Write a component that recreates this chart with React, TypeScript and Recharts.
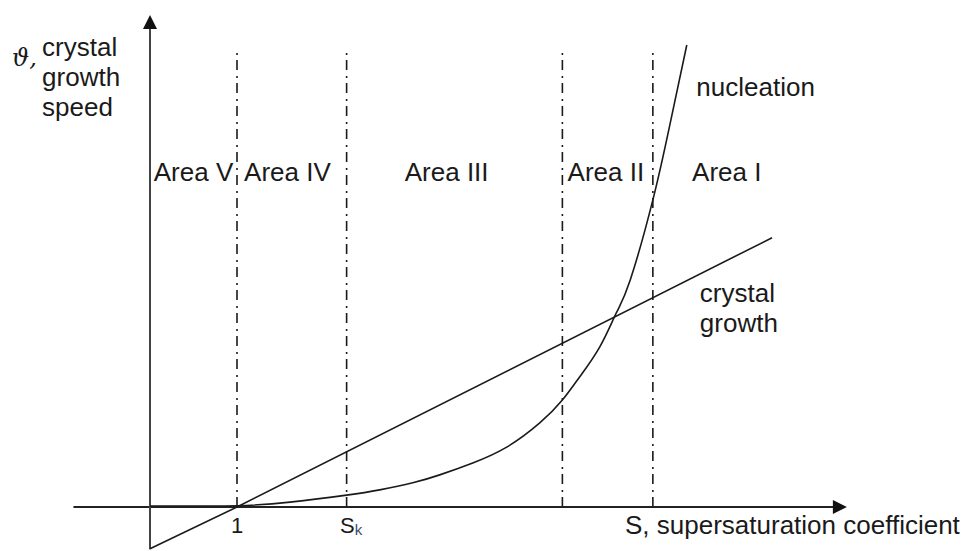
import React from "react";
import {
  ComposedChart,
  Line,
  XAxis,
  YAxis,
  ReferenceLine,
  ReferenceDot,
} from "recharts";

// ---- data (S = supersaturation coefficient, v = speed, arbitrary units) ----
const crystalS = [0, 1, 7.15];
const crystalV = [-0.95, 0, 6.12];

const nucleationS = [0, 1, 1.61, 2.26, 2.64, 3.02, 3.33, 3.71, 4.1, 4.48, 4.74, 4.94, 5.17, 5.36, 5.52, 5.78, 5.98, 6.17];
const nucleationV = [0.02, 0.03, 0.11, 0.27, 0.39, 0.55, 0.73, 1.0, 1.36, 1.91, 2.43, 2.96, 3.64, 4.41, 5.16, 6.98, 8.73, 10.5];

const boundaryS = [1, 2.26, 4.74, 5.78];
const boundaryTop = 10.39;

const areaLabels = ["Area V", "Area IV", "Area III", "Area II", "Area I"];
const areaCenterS = [0.5, 1.58, 3.41, 5.24, 6.63];
const areaLabelV = 7.61;

const tickLabels = ["1", "S"];
const tickS = [1, 2.26];

const crystalData = crystalS.map((s, i) => ({ s, v: crystalV[i] }));
const nucleationData = nucleationS.map((s, i) => ({ s, v: nucleationV[i] }));

const INK = "#1a1a1a";
const FONT = "'Liberation Sans', Arial, sans-serif";

const textShape =
  (content: React.ReactNode, opts: { anchor?: string; size?: number; family?: string; style?: string } = {}) =>
  (p: any) =>
    (
      <text
        x={p.cx}
        y={p.cy}
        textAnchor={opts.anchor || "middle"}
        dominantBaseline="central"
        fontSize={opts.size || 26}
        fontFamily={opts.family || FONT}
        fontStyle={opts.style || "normal"}
        fill={INK}
      >
        {content}
      </text>
    );

export default function App() {
  return (
    <div style={{ position: "absolute", left: 0, top: 0, background: "#fff" }}>
      <ComposedChart
        width={968}
        height={551}
        margin={{ top: 1, right: 35, bottom: 0, left: 63 }}
      >
        <XAxis type="number" dataKey="s" domain={[-1, 9]} hide allowDataOverflow />
        <YAxis type="number" domain={[-1, 11.5]} hide allowDataOverflow />

        {/* dash-dot boundaries */}
        {boundaryS.map((s) => (
          <ReferenceLine
            key={"b" + s}
            segment={[
              { x: s, y: 0 },
              { x: s, y: boundaryTop },
            ]}
            stroke={INK}
            strokeWidth={1.6}
            strokeDasharray="10 5 2 6"
            ifOverflow="visible"
          />
        ))}

        {/* axes */}
        <ReferenceLine
          segment={[
            { x: -0.88, y: 0 },
            { x: 7.9, y: 0 },
          ]}
          stroke="#222"
          strokeWidth={2}
          ifOverflow="visible"
        />
        <ReferenceLine
          segment={[
            { x: 0, y: -0.96 },
            { x: 0, y: 10.9 },
          ]}
          stroke="#444"
          strokeWidth={2}
          ifOverflow="visible"
        />
        <ReferenceDot
          x={8.01}
          y={0}
          ifOverflow="visible"
          shape={(p: any) => (
            <polygon
              points={`${p.cx},${p.cy} ${p.cx - 14},${p.cy - 7} ${p.cx - 14},${p.cy + 7}`}
              fill="#111"
            />
          )}
        />
        <ReferenceDot
          x={0}
          y={11.18}
          ifOverflow="visible"
          shape={(p: any) => (
            <polygon
              points={`${p.cx},${p.cy} ${p.cx - 7},${p.cy + 14} ${p.cx + 7},${p.cy + 14}`}
              fill="#111"
            />
          )}
        />

        {/* series */}
        <Line
          data={crystalData}
          dataKey="v"
          type="linear"
          stroke={INK}
          strokeWidth={1.6}
          dot={false}
          activeDot={false}
          isAnimationActive={false}
        />
        <Line
          data={nucleationData}
          dataKey="v"
          type="natural"
          stroke={INK}
          strokeWidth={1.6}
          dot={false}
          activeDot={false}
          isAnimationActive={false}
        />

        {/* area labels */}
        {areaLabels.map((t, i) => (
          <ReferenceDot
            key={t}
            x={areaCenterS[i]}
            y={areaLabelV}
            ifOverflow="visible"
            shape={textShape(t)}
          />
        ))}

        {/* tick labels */}
        <ReferenceDot
          x={tickS[0]}
          y={-0.42}
          ifOverflow="visible"
          shape={textShape(tickLabels[0], { size: 22 })}
        />
        <ReferenceDot
          x={tickS[1] - 0.076}
          y={-0.42}
          ifOverflow="visible"
          shape={textShape(
            <>
              {tickLabels[1]}
              <tspan fontSize={15} dy={4} fill="#3a4a6a">k</tspan>
            </>,
            { size: 22, anchor: "start" }
          )}
        />

        {/* axis titles */}
        <ReferenceDot
          x={-1.586}
          y={10.2}
          ifOverflow="visible"
          shape={textShape("ϑ,", { anchor: "start", family: "'DejaVu Serif', serif", style: "italic", size: 24 })}
        />
        <ReferenceDot x={-1.24} y={10.45} ifOverflow="visible" shape={textShape("crystal", { anchor: "start" })} />
        <ReferenceDot x={-1.24} y={9.77} ifOverflow="visible" shape={textShape("growth", { anchor: "start" })} />
        <ReferenceDot x={-1.24} y={9.09} ifOverflow="visible" shape={textShape("speed", { anchor: "start" })} />

        <ReferenceDot
          x={5.46}
          y={-0.41}
          ifOverflow="visible"
          shape={textShape("S, supersaturation coefficient", { anchor: "start" })}
        />

        {/* series labels */}
        <ReferenceDot x={6.28} y={9.55} ifOverflow="visible" shape={textShape("nucleation", { anchor: "start" })} />
        <ReferenceDot x={6.32} y={4.86} ifOverflow="visible" shape={textShape("crystal", { anchor: "start" })} />
        <ReferenceDot x={6.32} y={4.18} ifOverflow="visible" shape={textShape("growth", { anchor: "start" })} />
      </ComposedChart>
    </div>
  );
}
